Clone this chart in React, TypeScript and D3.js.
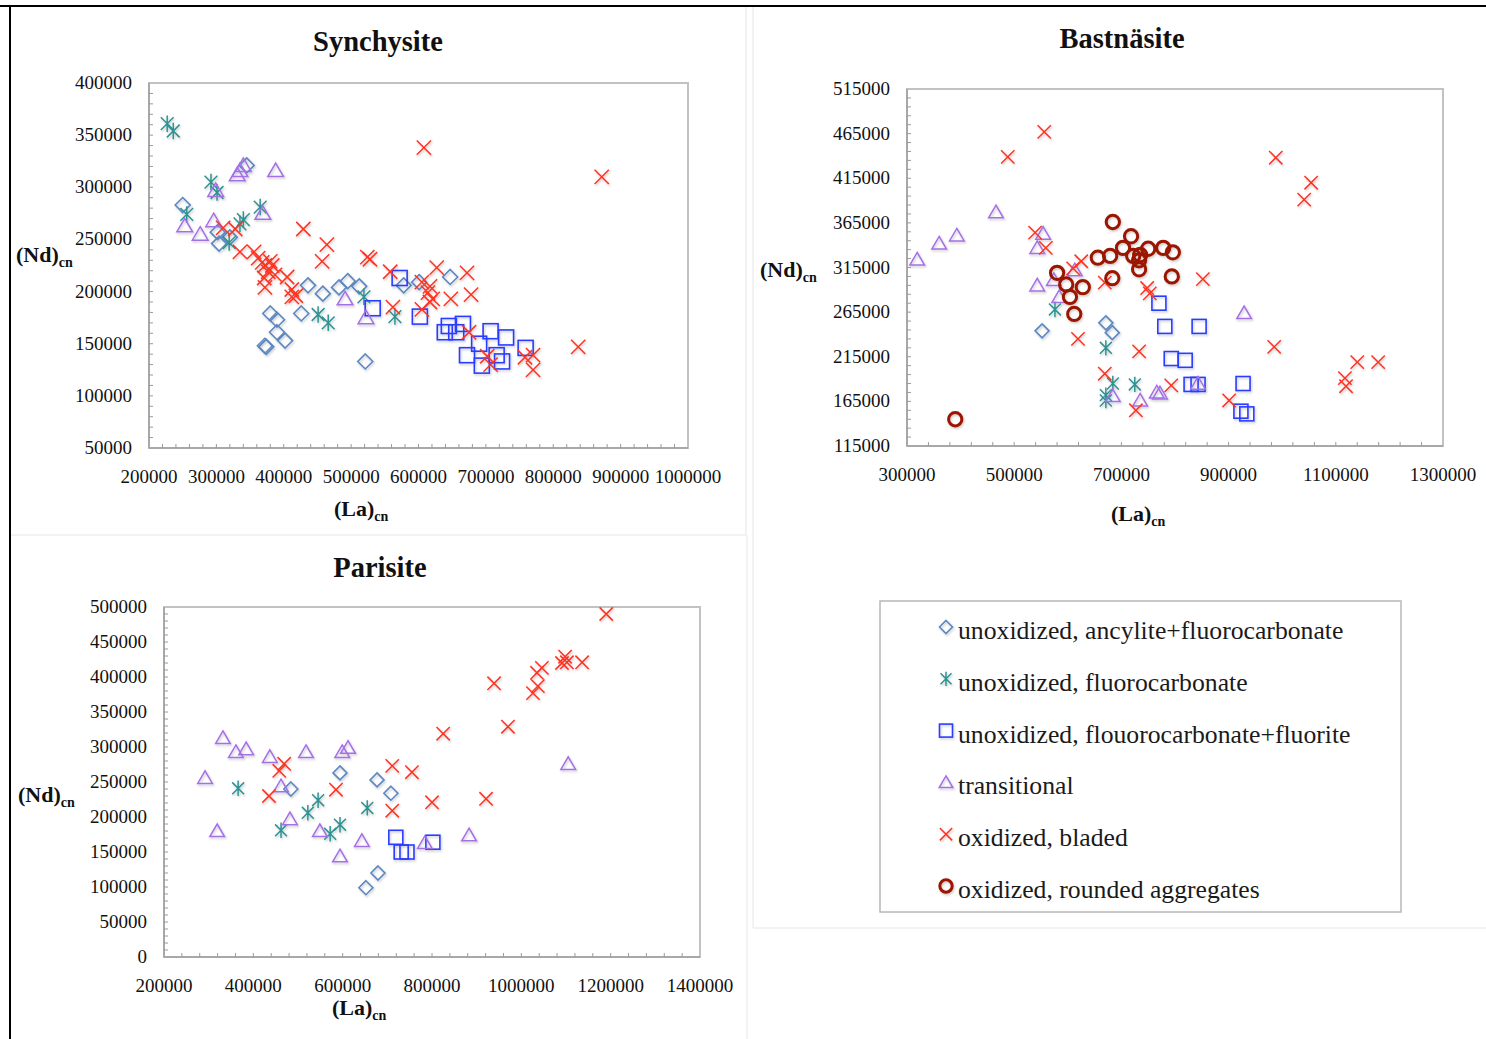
import React, { useEffect, useRef } from 'react';
import * as d3 from 'd3';

type Pt = [number, number];
type Kind = 'diamond' | 'asterisk' | 'square' | 'triangle' | 'cross' | 'circle';

// ---------- Synchysite (La_cn, Nd_cn) ----------
const synDiamond: Pt[] = [
  [250000, 283000], [302000, 257000], [304000, 246000], [320000, 252000], [345000, 321000],
  [380000, 179000], [390000, 173000], [390000, 161000], [402000, 153000], [374000, 147000],
  [372000, 148000], [426000, 179000], [436000, 206000], [458000, 198000], [482000, 204000],
  [495000, 210000], [512000, 205000], [521000, 133000], [578000, 206000], [601000, 209000],
  [647000, 214000],
];
const synAsterisk: Pt[] = [
  [227000, 361000], [236000, 354000], [292000, 305000], [301000, 295000], [256000, 274000],
  [365000, 281000], [340000, 269000], [335000, 265000], [319000, 247000], [451000, 178000],
  [466000, 170000], [519000, 195000], [565000, 176000],
];
const synSquare: Pt[] = [
  [572000, 213000], [532000, 184000], [602000, 176000], [645000, 167000], [666000, 169000],
  [639000, 161000], [656000, 161000], [707000, 162000], [730000, 156000], [690000, 150000],
  [672000, 139000], [716000, 139000], [724000, 133000], [694000, 129000], [759000, 146000],
];
const synTriangle: Pt[] = [
  [331000, 312000], [335000, 316000], [340000, 321000], [388000, 316000], [299000, 297000],
  [369000, 275000], [296000, 268000], [253000, 263000], [276000, 255000], [491000, 193000],
  [522000, 175000],
];
const synCross: Pt[] = [
  [310000, 261000], [328000, 260000], [335000, 238000], [356000, 238000], [362000, 232000],
  [368000, 228000], [372000, 225000], [380000, 229000], [383000, 225000], [377000, 219000],
  [387000, 216000], [371000, 213000], [405000, 214000], [372000, 204000], [412000, 202000],
  [418000, 196000], [412000, 195000], [429000, 260000], [464000, 245000], [457000, 229000],
  [524000, 233000], [528000, 231000], [558000, 219000], [608000, 338000], [562000, 185000],
  [872000, 310000], [627000, 223000], [672000, 218000], [605000, 209000], [617000, 205000],
  [614000, 199000], [621000, 193000], [617000, 190000], [605000, 183000], [648000, 193000],
  [678000, 197000], [675000, 161000], [702000, 138000], [707000, 130000], [758000, 137000],
  [770000, 139000], [770000, 125000], [837000, 147000],
];

// ---------- Bastnäsite ----------
const basDiamond: Pt[] = [[552000, 244000], [671000, 253000], [683000, 242000]];
const basAsterisk: Pt[] = [
  [576000, 268000], [671000, 225000], [671000, 172000], [684000, 185000], [725000, 184000],
  [671000, 166000],
];
const basSquare: Pt[] = [
  [770000, 275000], [781000, 249000], [845000, 249000], [793000, 213000], [819000, 211000],
  [830000, 184000], [843000, 184000], [927000, 185000], [923000, 154000], [934000, 151000],
];
const basTriangle: Pt[] = [
  [466000, 377000], [393000, 351000], [360000, 342000], [319000, 324000], [554000, 353000],
  [543000, 337000], [613000, 312000], [543000, 295000], [574000, 301000], [584000, 282000],
  [684000, 171000], [735000, 166000], [766000, 175000], [772000, 174000], [843000, 185000],
  [929000, 264000],
];
const basCross: Pt[] = [
  [556000, 467000], [488000, 439000], [539000, 354000], [559000, 337000], [625000, 322000],
  [610000, 314000], [669000, 298000], [748000, 292000], [753000, 286000], [619000, 235000],
  [733000, 221000], [669000, 196000], [793000, 183000], [727000, 155000], [852000, 302000],
  [988000, 438000], [1054000, 410000], [1041000, 391000], [985000, 226000], [1140000, 209000],
  [1179000, 209000], [1117000, 191000], [1119000, 182000], [901000, 166000],
];
const basCircle: Pt[] = [
  [684000, 366000], [718000, 350000], [703000, 337000], [656000, 326000], [679000, 328000],
  [722000, 328000], [735000, 329000], [750000, 336000], [778000, 337000], [796000, 332000],
  [733000, 323000], [733000, 313000], [794000, 305000], [683000, 303000], [580000, 309000],
  [597000, 296000], [628000, 293000], [604000, 282000], [612000, 263000], [390000, 145000],
];

// ---------- Parisite ----------
const parDiamond: Pt[] = [
  [484000, 240000], [594000, 263000], [677000, 253000], [708000, 234000], [652000, 99000],
  [679000, 120000],
];
const parAsterisk: Pt[] = [
  [366000, 241000], [545000, 224000], [522000, 206000], [462000, 181000], [594000, 189000],
  [572000, 176000], [655000, 213000],
];
const parSquare: Pt[] = [[719000, 171000], [731000, 150000], [744000, 150000], [802000, 164000]];
const parTriangle: Pt[] = [
  [332000, 313000], [361000, 293000], [384000, 297000], [292000, 256000], [437000, 286000],
  [518000, 293000], [599000, 293000], [612000, 299000], [462000, 244000], [482000, 197000],
  [319000, 180000], [549000, 180000], [643000, 166000], [594000, 144000], [784000, 163000],
  [883000, 174000], [1105000, 276000],
];
const parCross: Pt[] = [
  [1190000, 490000], [1098000, 429000], [1091000, 420000], [1102000, 421000], [1136000, 421000],
  [1046000, 413000], [1035000, 406000], [1037000, 387000], [1026000, 377000], [939000, 391000],
  [970000, 329000], [825000, 319000], [921000, 226000], [800000, 221000], [469000, 276000],
  [458000, 266000], [435000, 230000], [585000, 239000], [711000, 273000], [755000, 264000],
  [711000, 209000],
];

// ---------- Legend ----------
const legendKinds: Kind[] = ['diamond', 'asterisk', 'square', 'triangle', 'cross', 'circle'];
const legendLabels: string[] = [
  'unoxidized, ancylite+fluorocarbonate',
  'unoxidized, fluorocarbonate',
  'unoxidized, flouorocarbonate+fluorite',
  'transitional',
  'oxidized, bladed',
  'oxidized, rounded aggregates',
];

const COLORS: Record<Kind, string> = {
  diamond: '#5b87c0',
  asterisk: '#2f9292',
  square: '#2c3dff',
  triangle: '#a470e6',
  cross: '#ff3322',
  circle: '#9b1505',
};

const FONT = "'Liberation Serif', 'Times New Roman', Times, serif";

interface Panel {
  title: string;
  box: { x0: number; y0: number; x1: number; y1: number };
  xDomain: [number, number];
  yDomain: [number, number];
  xMajor: number;
  xMinor: number;
  yMajor: number;
  yMinor: number;
  titlePos: [number, number];
  yLabelPos: [number, number];
  xLabelPos: [number, number];
  size: number;
  series: [Kind, Pt[]][];
}

const panels: Panel[] = [
  {
    title: 'Synchysite',
    box: { x0: 149, y0: 83, x1: 688, y1: 448 },
    xDomain: [200000, 1000000],
    yDomain: [50000, 400000],
    xMajor: 100000, xMinor: 20000, yMajor: 50000, yMinor: 10000,
    titlePos: [378, 51],
    yLabelPos: [16, 262],
    xLabelPos: [334, 516],
    size: 7.5,
    series: [
      ['diamond', synDiamond], ['asterisk', synAsterisk], ['square', synSquare],
      ['triangle', synTriangle], ['cross', synCross],
    ],
  },
  {
    title: 'Bastnäsite',
    box: { x0: 907, y0: 89, x1: 1443, y1: 446 },
    xDomain: [300000, 1300000],
    yDomain: [115000, 515000],
    xMajor: 200000, xMinor: 40000, yMajor: 50000, yMinor: 10000,
    titlePos: [1122, 48],
    yLabelPos: [760, 277],
    xLabelPos: [1111, 521],
    size: 7,
    series: [
      ['diamond', basDiamond], ['asterisk', basAsterisk], ['square', basSquare],
      ['triangle', basTriangle], ['cross', basCross], ['circle', basCircle],
    ],
  },
  {
    title: 'Parisite',
    box: { x0: 164, y0: 607, x1: 700, y1: 957 },
    xDomain: [200000, 1400000],
    yDomain: [0, 500000],
    xMajor: 200000, xMinor: 40000, yMajor: 50000, yMinor: 10000,
    titlePos: [380, 577],
    yLabelPos: [18, 802],
    xLabelPos: [332, 1015],
    size: 7,
    series: [
      ['diamond', parDiamond], ['asterisk', parAsterisk], ['square', parSquare],
      ['triangle', parTriangle], ['cross', parCross],
    ],
  },
];

function drawMarker(
  g: d3.Selection<SVGGElement, unknown, null, undefined>,
  kind: Kind,
  x: number,
  y: number,
  s: number,
) {
  const c = COLORS[kind];
  if (kind === 'diamond') {
    g.append('path')
      .attr('d', `M${x},${y - s}L${x + s},${y}L${x},${y + s}L${x - s},${y}Z`)
      .attr('fill', 'none').attr('stroke', c).attr('stroke-width', 1.6);
  } else if (kind === 'square') {
    g.append('rect')
      .attr('x', x - s).attr('y', y - s).attr('width', 2 * s).attr('height', 2 * s)
      .attr('fill', 'none').attr('stroke', c).attr('stroke-width', 1.6);
  } else if (kind === 'triangle') {
    g.append('path')
      .attr('d', `M${x},${y - s}L${x + s * 1.05},${y + s * 0.8}L${x - s * 1.05},${y + s * 0.8}Z`)
      .attr('fill', 'none').attr('stroke', c).attr('stroke-width', 1.5);
  } else if (kind === 'cross') {
    const r = s * 0.95;
    g.append('path')
      .attr('d', `M${x - r},${y - r}L${x + r},${y + r}M${x - r},${y + r}L${x + r},${y - r}`)
      .attr('fill', 'none').attr('stroke', c).attr('stroke-width', 1.5);
  } else if (kind === 'asterisk') {
    const r = s * 0.85;
    g.append('path')
      .attr('d', `M${x - r},${y - r}L${x + r},${y + r}M${x - r},${y + r}L${x + r},${y - r}M${x},${y - s * 1.1}L${x},${y + s * 1.1}`)
      .attr('fill', 'none').attr('stroke', c).attr('stroke-width', 1.5);
  } else {
    g.append('circle')
      .attr('cx', x).attr('cy', y).attr('r', s * 0.95)
      .attr('fill', 'none').attr('stroke', c).attr('stroke-width', 3);
  }
}

function ticksBetween(lo: number, hi: number, step: number): number[] {
  const out: number[] = [];
  const n = Math.round((hi - lo) / step);
  for (let i = 0; i <= n; i++) out.push(lo + i * step);
  return out;
}

export default function App() {
  const ref = useRef<SVGSVGElement | null>(null);

  useEffect(() => {
    const svg = d3.select(ref.current as SVGSVGElement);
    svg.selectAll('*').remove();

    const defs = svg.append('defs');
    const f = defs.append('filter').attr('id', 'mshadow')
      .attr('x', '-50%').attr('y', '-50%').attr('width', '200%').attr('height', '200%');
    f.append('feDropShadow').attr('dx', 1).attr('dy', 1.5).attr('stdDeviation', 1)
      .attr('flood-color', '#000').attr('flood-opacity', 0.22);

    // page frame and faint panel separators
    const frame = svg.append('g');
    frame.append('line').attr('x1', 0).attr('x2', 1486).attr('y1', 6).attr('y2', 6)
      .attr('stroke', '#000').attr('stroke-width', 2);
    frame.append('line').attr('x1', 10).attr('x2', 10).attr('y1', 5).attr('y2', 1039)
      .attr('stroke', '#000').attr('stroke-width', 2);
    const sep = '#e6e6e6';
    frame.append('line').attr('x1', 746).attr('x2', 746).attr('y1', 7).attr('y2', 535)
      .attr('stroke', sep).attr('stroke-width', 1);
    frame.append('line').attr('x1', 11).attr('x2', 746).attr('y1', 535).attr('y2', 535)
      .attr('stroke', sep).attr('stroke-width', 1);
    frame.append('line').attr('x1', 747).attr('x2', 747).attr('y1', 535).attr('y2', 1039)
      .attr('stroke', sep).attr('stroke-width', 1);
    frame.append('line').attr('x1', 753).attr('x2', 753).attr('y1', 7).attr('y2', 928)
      .attr('stroke', sep).attr('stroke-width', 1);
    frame.append('line').attr('x1', 753).attr('x2', 1486).attr('y1', 928).attr('y2', 928)
      .attr('stroke', sep).attr('stroke-width', 1);

    panels.forEach((p) => {
      const { x0, y0, x1, y1 } = p.box;
      const xs = d3.scaleLinear().domain(p.xDomain).range([x0, x1]);
      const ys = d3.scaleLinear().domain(p.yDomain).range([y1, y0]);
      const g = svg.append('g');

      // plot border
      g.append('rect').attr('x', x0).attr('y', y0).attr('width', x1 - x0).attr('height', y1 - y0)
        .attr('fill', '#fff').attr('stroke', '#c2c2c2').attr('stroke-width', 2);
      // axis lines
      g.append('line').attr('x1', x0).attr('x2', x0).attr('y1', y0).attr('y2', y1)
        .attr('stroke', '#a8a8a8').attr('stroke-width', 2);
      g.append('line').attr('x1', x0).attr('x2', x1).attr('y1', y1).attr('y2', y1)
        .attr('stroke', '#a8a8a8').attr('stroke-width', 2);

      // inward minor ticks
      const xt = ticksBetween(p.xDomain[0], p.xDomain[1], p.xMinor);
      const yt = ticksBetween(p.yDomain[0], p.yDomain[1], p.yMinor);
      g.append('g').selectAll('line').data(xt.slice(1, -1)).join('line')
        .attr('x1', (d) => xs(d)).attr('x2', (d) => xs(d))
        .attr('y1', y1).attr('y2', y1 - 4)
        .attr('stroke', '#9a9a9a').attr('stroke-width', 1);
      g.append('g').selectAll('line').data(yt.slice(1, -1)).join('line')
        .attr('x1', x0).attr('x2', x0 + 4)
        .attr('y1', (d) => ys(d)).attr('y2', (d) => ys(d))
        .attr('stroke', '#9a9a9a').attr('stroke-width', 1);

      // tick labels
      const xl = ticksBetween(p.xDomain[0], p.xDomain[1], p.xMajor);
      const yl = ticksBetween(p.yDomain[0], p.yDomain[1], p.yMajor);
      g.append('g').selectAll('text').data(xl).join('text')
        .attr('x', (d) => xs(d)).attr('y', y1 + 35)
        .attr('text-anchor', 'middle')
        .attr('font-family', FONT).attr('font-size', 19).attr('fill', '#111')
        .text((d) => String(d));
      g.append('g').selectAll('text').data(yl).join('text')
        .attr('x', x0 - 17).attr('y', (d) => ys(d) + 6)
        .attr('text-anchor', 'end')
        .attr('font-family', FONT).attr('font-size', 19).attr('fill', '#111')
        .text((d) => String(d));

      // title
      g.append('text').attr('x', p.titlePos[0]).attr('y', p.titlePos[1])
        .attr('text-anchor', 'middle').attr('font-family', FONT)
        .attr('font-weight', 'bold').attr('font-size', 28.5).attr('fill', '#111')
        .text(p.title);

      // axis titles
      const yt2 = g.append('text').attr('x', p.yLabelPos[0]).attr('y', p.yLabelPos[1])
        .attr('font-family', FONT).attr('font-weight', 'bold').attr('font-size', 22).attr('fill', '#111');
      yt2.append('tspan').text('(Nd)');
      yt2.append('tspan').attr('dy', 5).attr('font-size', 14).text('cn');
      const xt2 = g.append('text').attr('x', p.xLabelPos[0]).attr('y', p.xLabelPos[1])
        .attr('font-family', FONT).attr('font-weight', 'bold').attr('font-size', 22).attr('fill', '#111');
      xt2.append('tspan').text('(La)');
      xt2.append('tspan').attr('dy', 5).attr('font-size', 14).text('cn');

      // markers
      const mg = g.append('g').attr('filter', 'url(#mshadow)');
      p.series.forEach(([kind, pts]) => {
        pts.forEach(([vx, vy]) => drawMarker(mg, kind, xs(vx), ys(vy), p.size));
      });
    });

    // legend
    const lg = svg.append('g');
    lg.append('rect').attr('x', 880).attr('y', 601).attr('width', 521).attr('height', 311)
      .attr('fill', '#fff').attr('stroke', '#b8b8b8').attr('stroke-width', 1.5);
    const rowY = d3.scaleLinear().domain([0, legendKinds.length - 1]).range([631, 890]);
    const lm = lg.append('g').attr('filter', 'url(#mshadow)');
    legendKinds.forEach((k, i) => {
      drawMarker(lm, k, 946, rowY(i) - 4, 6.5);
      lg.append('text').attr('x', 958).attr('y', rowY(i) + 8)
        .attr('font-family', FONT).attr('font-size', 25.7).attr('fill', '#1a1a1a')
        .text(legendLabels[i]);
    });
  }, []);

  return (
    <svg
      ref={ref}
      width={1486}
      height={1039}
      style={{ position: 'absolute', left: 0, top: 0, background: '#fff' }}
    />
  );
}
